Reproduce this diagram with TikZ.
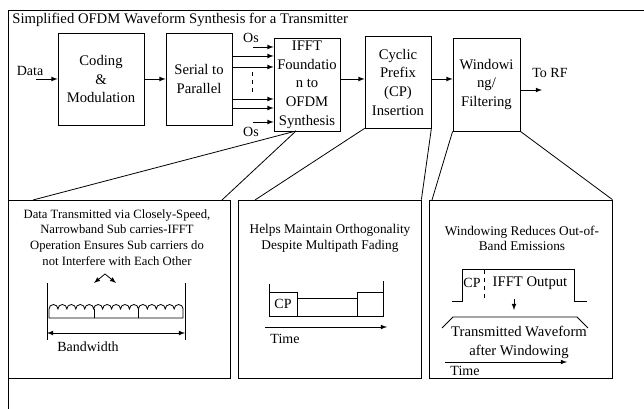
\documentclass[tikz,border=0pt]{standalone}
\usepackage{fontspec}
\setmainfont{Liberation Serif}
\tikzset{
	block/.style={draw, align=center, inner sep=0pt, font=\fontsize{11}{14}\selectfont},
	panel/.style={draw, inner sep=0pt, minimum height=133.5pt},
	note/.style={align=center, inner sep=0pt, font=\fontsize{10}{11.8}\selectfont},
	lbl/.style={inner sep=0pt, font=\fontsize{10.5}{12}\selectfont},
}
\begin{document}
\begin{tikzpicture}[x=0.75pt,y=-0.75pt,>=latex,semithick]
		\useasboundingbox (0,0) rectangle (644,409);
		\draw (644,10) -- (8,10) -- (8,409);
		\node[lbl, anchor=west, font=\fontsize{11}{12}\selectfont] (title) at (12,20) {Simplified OFDM Waveform Synthesis for a Transmitter};

		% transmitter chain
		\node[block, minimum width=64.5pt, minimum height=69pt] (coding) at (101,79) {Coding\\\&\\Modulation};
		\node[block, minimum width=49.5pt, minimum height=69pt] (serial) at (199,79) {Serial to\\Parallel};
		\node[block, minimum width=49.5pt, minimum height=69.75pt] (ifft) at (307,84.5) {IFFT\\Foundatio\\n to\\OFDM\\Synthesis};
		\node[block, minimum width=49.5pt, minimum height=69pt] (cp) at (398,82) {Cyclic\\Prefix\\(CP)\\Insertion};
		\node[block, minimum width=50.25pt, minimum height=69.75pt] (win) at (486.5,84.5) {Windowi\\ng/\\Filtering};

		\coordinate (datain) at (36,79);
		\coordinate (rf) at (542,90);
		\node[lbl] (data) at (30,71) {Data};
		\node[lbl] (torf) at (550,73) {To RF};
		\draw[->] (datain) -- (coding);
		\draw[->] (coding) -- (serial);
		\draw[->] (ifft.east |- coding) -- (cp.west |- coding);
		\draw[->] (cp.east |- coding) -- (win.west |- coding);
		\draw[->] (win.east |- rf) -- (rf);

		% parallel inputs
		\foreach \y in {56,67,99,108}
			\draw[->] (serial.east |- 0,\y) -- (ifft.west |- 0,\y);
		\coordinate (ostop) at (253,47);
		\coordinate (osbot) at (253,122);
		\draw[->] (ostop) -- (ifft.west |- ostop);
		\draw[->] (osbot) -- (ifft.west |- osbot);
		\node[lbl] (os1) at (251,38) {Os};
		\node[lbl] (os2) at (251,132) {Os};
		\draw[thin, dashed] (252,72) -- (252,93);

		% detail panels
		\node[panel, minimum width=166.5pt] (p1) at (119,289) {};
		\node[panel, minimum width=137.25pt] (p2) at (329.5,289) {};
		\node[panel, minimum width=137.25pt] (p3) at (520.5,289) {};

		\coordinate (ifftfoot) at (296,131);
		\coordinate (p1a) at (33,200);
		\coordinate (p1b) at (222,200);
		\coordinate (p2a) at (255,200);
		\coordinate (p3a) at (432,200);
		\draw (ifftfoot) -- (p1a);
		\draw (ifftfoot) -- (p1b);
		\draw (cp.south west) -- (p2a);
		\draw (cp.south east) -- (p2.north east);
		\draw (win.south west) -- (p3a);
		\draw (win.south east) -- (p3.north east);

		% panel 1: sub carriers
		\node[note, font=\fontsize{9.5}{11.8}\selectfont] (t1) at (117,237.5) {Data Transmitted via Closely-Speed,\\Narrowband Sub carries-IFFT\\Operation Ensures Sub carriers do\\not Interfere with Each Other};
		\coordinate (apex) at (105,274);
		\draw[->] (apex) -- (94,283);
		\draw[->] (apex) -- (116,283);
		\draw (47,283) -- (47,340);
		\draw (185,283) -- (185,340);
		\draw (49,318) -- (49,309) \foreach \i in {1,...,15} { arc (180:360:4.47 and 4.5) } -- (183,318) -- cycle;
		\draw (94,309) -- (94,318);
		\draw (138,309) -- (138,318);
		\draw[<->] (47,333) -- (185,333);
		\node[lbl] (bw) at (88,347) {Bandwidth};

		% panel 2: cyclic prefix
		\node[note] (t2) at (330,238) {Helps Maintain Orthogonality\\Despite Multipath Fading};
		\draw (269,284) -- (269,316) -- (383,316) -- (383,281);
		\draw (269,292) -- (297,292) -- (297,316);
		\draw (297,298) -- (357,298);
		\draw (357,316) -- (357,292) -- (383,292);
		\node[lbl] (cplbl) at (283,304) {CP};
		\draw[->] (265,327) -- (387,327);
		\node[lbl] (time1) at (285,339) {Time};

		% panel 3: windowing
		\node[note] (t3) at (522,238.5) {Windowing Reduces Out-of-\\Band Emissions};
		\draw (452,301) -- (462,301) -- (462,269) -- (574,269) -- (574,301) -- (587,301);
		\draw[thin, dashed] (484,270) -- (484,300);
		\node[lbl] (cplbl2) at (472,283) {CP};
		\node[lbl, font=\fontsize{11}{12}\selectfont] (ifftout) at (530,283) {IFFT Output};
		\draw[->] (514,299) -- (514,310);
		\draw (442,328) -- (453,317) -- (577,317) -- (588,328);
		\node[note, font=\fontsize{11}{14.25}\selectfont] (txw) at (519,342.5) {Transmitted Waveform\\after Windowing};
		\draw[->] (445,362) -- (567,362);
		\node[lbl] (time2) at (465,371) {Time};
	\end{tikzpicture}
\end{document}
